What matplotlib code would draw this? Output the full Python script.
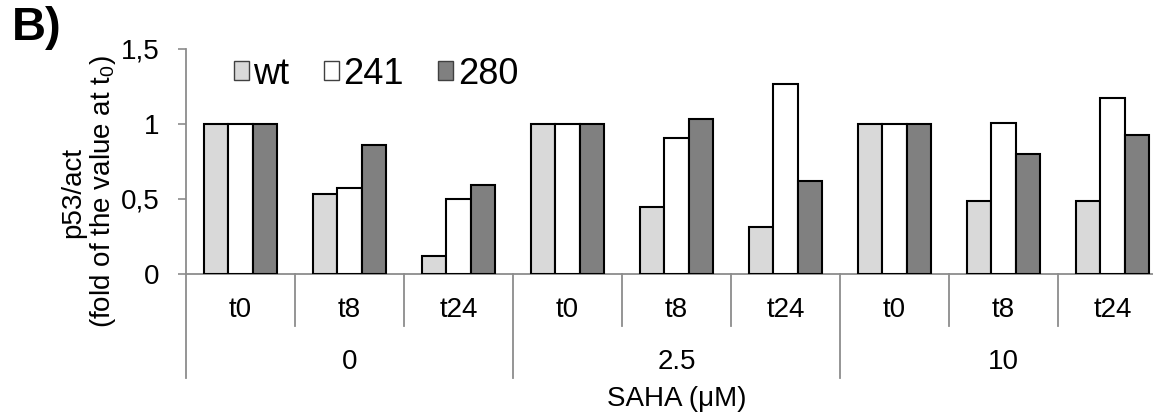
import matplotlib
matplotlib.use("Agg")
import matplotlib.pyplot as plt
import matplotlib.transforms as mtransforms
from matplotlib.patches import Patch
import numpy as np

plt.rcParams['font.family'] = ['Liberation Sans', 'DejaVu Sans']
plt.rcParams['mathtext.fontset'] = 'custom'
plt.rcParams['mathtext.rm'] = 'Liberation Sans'

# ---- data ----
times = ["t0", "t8", "t24", "t0", "t8", "t24", "t0", "t8", "t24"]
doses = ["0", "2.5", "10"]
series_names = ["wt", "241", "280"]
wt_vals = [1.0, 0.533, 0.122, 1.0, 0.445, 0.312, 1.0, 0.485, 0.49]
v241_vals = [1.0, 0.576, 0.503, 1.0, 0.908, 1.27, 1.0, 1.008, 1.175]
v280_vals = [1.0, 0.858, 0.593, 1.0, 1.035, 0.623, 1.0, 0.797, 0.93]
yticks = [0, 0.5, 1, 1.5]
ytick_labels = ["0", "0,5", "1", "1,5"]

colors = ["#d9d9d9", "#ffffff", "#808080"]
gray = "#8c8c8c"

W, H = 1153, 417
fig = plt.figure(figsize=(W / 100, H / 100), dpi=100)
ax_left, ax_right, ax_top, ax_zero = 186, 1167, 49, 274
ax = fig.add_axes([ax_left / W, (H - ax_zero) / H, (ax_right - ax_left) / W, (ax_zero - ax_top) / H])

n = len(times)
x = np.arange(n) + 0.5
bw = 0.224
for k, vals in enumerate([wt_vals, v241_vals, v280_vals]):
    ax.bar(x + (k - 1) * bw, vals, width=bw, color=colors[k], edgecolor="black",
           linewidth=1.5, zorder=3)

ax.set_xlim(0, n)
ax.set_ylim(0, 1.5)
ax.set_yticks(yticks)
ax.set_yticklabels(ytick_labels, fontsize=20)
ax.tick_params(axis='y', direction='out', length=6, width=1.2, color=gray, pad=13)
ax.set_xticks([])
for s in ["top", "right"]:
    ax.spines[s].set_visible(False)
for s in ["left", "bottom"]:
    ax.spines[s].set_color(gray)
    ax.spines[s].set_linewidth(1.3)

trans = mtransforms.blended_transform_factory(ax.transData, ax.transAxes)
ah = ax_zero - ax_top
short_y = -(326 - ax_zero) / ah
long_y = -(378 - ax_zero) / ah
for i in range(n + 1):
    yb = long_y if i % 3 == 0 else short_y
    ax.plot([i, i], [0, yb], color=gray, lw=1.3, transform=trans, clip_on=False)

for i, t in enumerate(times):
    ax.text(i + 0.5, -(310 - ax_zero) / ah, t, transform=trans, ha="center", va="center", fontsize=20)
for j, d in enumerate(doses):
    ax.text(3 * j + 1.5, -(362 - ax_zero) / ah, d, transform=trans, ha="center", va="center", fontsize=20)
ax.text(n / 2, -(399 - ax_zero) / ah, "SAHA (μM)", transform=trans, ha="center", va="center", fontsize=20)

fig.text(89 / W, 1 - 192 / H, "p53/act\n(fold of the value at t$\\mathregular{_0}$)", rotation=90,
         ha="center", va="center", fontsize=20, linespacing=1.05, multialignment="center")

fig.text(12 / W, 1 - 6 / H, "B)", fontsize=34, fontweight="bold", ha="left", va="top")

handles = [Patch(facecolor=c, edgecolor="#404040", linewidth=1.0) for c in colors]
fig.legend(handles, series_names, loc="center left", bbox_to_anchor=(234 / W, 1 - 74 / H),
           ncol=3, frameon=False, fontsize=26, handlelength=0.42, handleheight=0.42,
           handletextpad=0.12, columnspacing=0.95, borderpad=0, borderaxespad=0)

fig.savefig("out.png", dpi=100)
